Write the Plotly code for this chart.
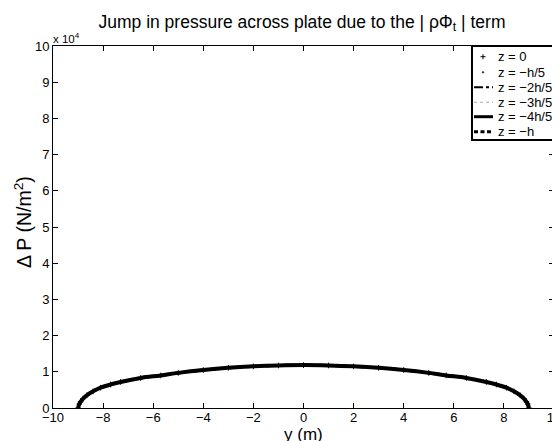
import plotly.graph_objects as go

# Span-wise position (m)
y_pos = [-9.0, -8.95, -8.9, -8.8, -8.65, -8.4, -8.1, -7.7, -7.3, -6.5, -5.7, -5.0,
         -4.0, -3.0, -2.0, -1.0, 0.0, 1.0, 2.0, 3.0, 4.0, 5.0, 5.7, 6.5, 7.3, 7.7,
         8.1, 8.4, 8.65, 8.8, 8.9, 8.95, 9.0]
# Pressure jump (N/m^2) (all depths overlap)
dp = [0, 1100, 1700, 2600, 3500, 4600, 5600, 6500, 7200, 8300, 9000, 9700,
      10500, 11100, 11500, 11750, 11850, 11750, 11500, 11100, 10500, 9700, 9000,
      8300, 7200, 6500, 5600, 4600, 3500, 2600, 1700, 1100, 0]

series_names = ["z = 0", "z = \u2212h/5", "z = \u22122h/5", "z = \u22123h/5", "z = \u22124h/5", "z = \u2212h"]

x_ticks = [-10, -8, -6, -4, -2, 0, 2, 4, 6, 8, 10]
x_tick_labels = ["\u221210", "\u22128", "\u22126", "\u22124", "\u22122", "0", "2", "4", "6", "8", "10"]
y_ticks = [0, 1e4, 2e4, 3e4, 4e4, 5e4, 6e4, 7e4, 8e4, 9e4, 1e5]
y_tick_labels = ["0", "1", "2", "3", "4", "5", "6", "7", "8", "9", "10"]

FONT = "Liberation Sans, Arial, Helvetica, sans-serif"

# per-series styles (mode, line style, marker)
styles = [
    dict(mode="markers", marker=dict(symbol="cross-thin", size=4, color="black",
                                     line=dict(color="black", width=1))),
    dict(mode="markers", marker=dict(symbol="circle", size=2, color="black")),
    dict(mode="lines", line=dict(color="black", width=2, dash="dashdot", shape="spline")),
    dict(mode="lines", line=dict(color="#999999", width=1, dash="dot", shape="spline")),
    dict(mode="lines", line=dict(color="black", width=4, shape="spline")),
    dict(mode="lines", line=dict(color="black", width=3, dash="dash", shape="spline")),
]

fig = go.Figure()
for name, st in zip(series_names, styles):
    fig.add_trace(go.Scatter(x=y_pos, y=dp, name=name, showlegend=False, **st))

axis_common = dict(showline=True, linecolor="black", linewidth=1, mirror="ticks",
                   ticks="inside", ticklen=5, tickcolor="black", showgrid=False,
                   zeroline=False, automargin=False,
                   tickfont=dict(family=FONT, size=13, color="black"))

fig.update_layout(
    template="none",
    width=560, height=441,
    margin=dict(l=45, r=14, t=38, b=41, autoexpand=False),
    paper_bgcolor="white", plot_bgcolor="white",
    font=dict(family=FONT, size=13, color="black"),
    title=dict(text="Jump in pressure across plate due to the | \u03c1\u03a6<sub>t</sub> | term",
               xref="container", yref="container", x=0.525, xanchor="center",
               y=0.969, yanchor="middle", automargin=False,
               font=dict(family=FONT, size=17.5, color="black")),
    xaxis=dict(range=[-10, 10], tickvals=x_ticks, ticktext=x_tick_labels,
               ticklabelstandoff=-3, **axis_common),
    yaxis=dict(range=[0, 1e5], tickvals=y_ticks, ticktext=y_tick_labels,
               **axis_common),
    showlegend=False,
)

# axis titles
fig.add_annotation(text="y (m)", xref="paper", yref="paper", x=0.5, y=0,
                   xanchor="center", yanchor="middle", yshift=-26, showarrow=False,
                   font=dict(family=FONT, size=17, color="black"))
fig.add_annotation(text="\u0394 P (N/m<sup>2</sup>)", xref="paper", yref="paper", x=0, y=0.5,
                   xanchor="center", yanchor="middle", xshift=-30, yshift=5, textangle=-90,
                   showarrow=False, font=dict(family=FONT, size=19.5, color="black"))
# exponent label
fig.add_annotation(text="x 10<sup>4</sup>", xref="paper", yref="paper", x=0, y=1,
                   xanchor="left", yanchor="bottom", showarrow=False,
                   font=dict(family=FONT, size=11.5, color="black"), xshift=-2, yshift=-1)

# ---- legend box (drawn in paper coordinates) ----
fig.add_shape(type="rect", xref="paper", yref="paper", x0=0.8363, x1=1.0, y0=0.7403, y1=1.0,
              line=dict(color="black", width=2), fillcolor="white", layer="above")
leg_y = [0.9704, 0.9273, 0.8859, 0.8445, 0.8047, 0.7633]
sx0, sx1, smid, tx = 0.8403, 0.8782, 0.8583, 0.8842
# '+' marker
fig.add_shape(type="line", xref="paper", yref="paper", xsizemode="pixel", ysizemode="pixel",
              xanchor=smid, yanchor=leg_y[0], x0=-2.5, x1=2.5, y0=0, y1=0,
              line=dict(color="black", width=1), layer="above")
fig.add_shape(type="line", xref="paper", yref="paper", xsizemode="pixel", ysizemode="pixel",
              xanchor=smid, yanchor=leg_y[0], x0=0, x1=0, y0=-2.5, y1=2.5,
              line=dict(color="black", width=1), layer="above")
# '.' marker
fig.add_shape(type="circle", xref="paper", yref="paper", xsizemode="pixel", ysizemode="pixel",
              xanchor=smid, yanchor=leg_y[1], x0=-0.8, x1=0.8, y0=-0.8, y1=0.8,
              line=dict(color="black", width=0.5), fillcolor="black", layer="above")
leg_lines = [
    (2, dict(color="black", width=2, dash="dashdot")),
    (3, dict(color="#aaaaaa", width=1, dash="dot")),
    (4, dict(color="black", width=3)),
    (5, dict(color="black", width=3, dash="4px,2.5px")),
]
for i, ln in leg_lines:
    fig.add_shape(type="line", xref="paper", yref="paper", x0=sx0, x1=sx1,
                  y0=leg_y[i], y1=leg_y[i], line=ln, layer="above")
for name, yy in zip(series_names, leg_y):
    fig.add_annotation(text=name, xref="paper", yref="paper", x=tx, y=yy,
                       xanchor="left", yanchor="middle", showarrow=False,
                       font=dict(family=FONT, size=13, color="black"))

fig.write_html("out.html")
